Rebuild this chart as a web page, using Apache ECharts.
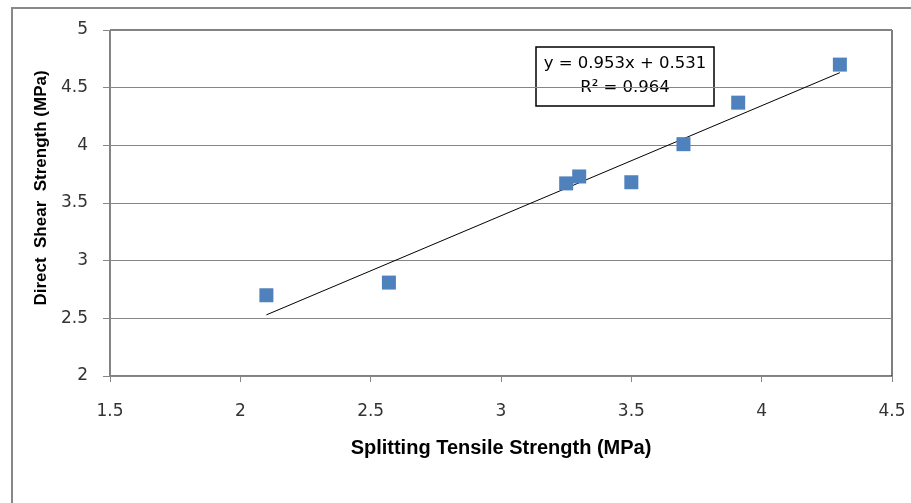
<!DOCTYPE html>
<html>
<head>
<meta charset="utf-8">
<script src="https://cdn.jsdelivr.net/npm/echarts@6/dist/echarts.min.js"></script>
<style>
  html, body { margin: 0; padding: 0; background: #fff; }
  #chart { width: 911px; height: 503px; }
</style>
</head>
<body>
<div id="chart"></div>
<script>
// measured points: splitting tensile vs direct shear strength (MPa)
const tensile = [2.1, 2.57, 3.25, 3.3, 3.5, 3.7, 3.91, 4.3];
const shear = [2.7, 2.81, 3.67, 3.73, 3.68, 4.01, 4.37, 4.7];

// linear trendline ends, as drawn
const trendX = [2.1, 4.3];
const trendY = [2.53, 4.63];

const equationText = 'y = 0.953x + 0.531';
const r2Text = 'R² = 0.964';

const chart = echarts.init(document.getElementById('chart'));

const gray = '#868686';
const labelFont = 'DejaVu Sans';
const titleFont = 'Liberation Sans';

chart.setOption({
  animation: false,
  backgroundColor: '#fff',
  grid: {
    left: 110,
    right: 19,
    top: 30,
    bottom: 127,
    show: true,
    borderColor: '#000',
    borderWidth: 1
  },
  xAxis: {
    type: 'value',
    min: 1.5,
    max: 4.5,
    interval: 0.5,
    name: 'Splitting Tensile Strength (MPa)',
    nameLocation: 'middle',
    nameGap: 62,
    nameTextStyle: { fontFamily: titleFont, fontWeight: 'bold', fontSize: 20, color: '#000' },
    axisLine: { show: true, lineStyle: { color: gray, width: 1 } },
    axisTick: { show: true, inside: false, length: 6, lineStyle: { color: gray } },
    axisLabel: { margin: 27, fontFamily: labelFont, fontSize: 17, color: '#333' },
    splitLine: { show: false }
  },
  yAxis: {
    type: 'value',
    min: 2,
    max: 5,
    interval: 0.5,
    name: 'Direct  Shear  Strength (MPa)',
    nameLocation: 'middle',
    nameGap: 53,
    nameTextStyle: { fontFamily: titleFont, fontWeight: 'bold', fontSize: 17, color: '#000', padding: [0, 0, 0, 30] },
    axisLine: { show: true, lineStyle: { color: gray, width: 1 } },
    axisTick: { show: true, inside: false, length: 7, lineStyle: { color: gray } },
    axisLabel: { margin: 22, fontFamily: labelFont, fontSize: 17, color: '#333' },
    splitLine: { show: true, lineStyle: { color: gray, width: 1 } }
  },
  series: [
    {
      type: 'line',
      data: trendX.map((x, i) => [x, trendY[i]]),
      symbol: 'none',
      lineStyle: { color: '#000', width: 1 },
      z: 2
    },
    {
      type: 'scatter',
      data: tensile.map((x, i) => [x, shear[i]]),
      symbol: 'rect',
      symbolSize: 14,
      itemStyle: { color: '#4F81BD', opacity: 1 },
      z: 3
    }
  ],
  graphic: [
    {
      type: 'rect',
      shape: { x: 12, y: 8, width: 930, height: 520 },
      style: { fill: 'none', stroke: '#888', lineWidth: 2 },
      silent: true
    },
    {
      type: 'group',
      x: 536,
      y: 47,
      children: [
        {
          type: 'rect',
          shape: { x: 0, y: 0, width: 178, height: 59 },
          style: { fill: '#fff', stroke: '#000', lineWidth: 1.5 }
        },
        {
          type: 'text',
          x: 89,
          y: 17,
          style: { text: equationText, font: '16.5px "DejaVu Sans"', fill: '#000', align: 'center', verticalAlign: 'middle' }
        },
        {
          type: 'text',
          x: 89,
          y: 41,
          style: { text: r2Text, font: '16.5px "DejaVu Sans"', fill: '#000', align: 'center', verticalAlign: 'middle' }
        }
      ]
    }
  ]
});
</script>
</body>
</html>
